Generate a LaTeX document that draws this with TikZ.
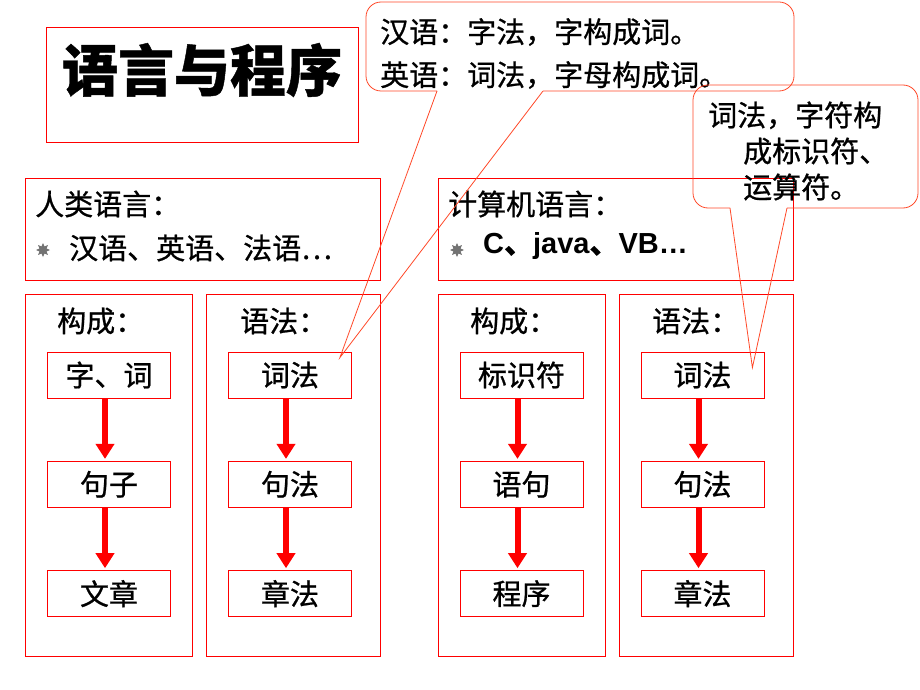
\documentclass[tikz,border=0pt]{standalone}
\usepackage{fontspec}
\setmainfont{Liberation Sans}
\newfontfamily\cjk[FakeBold=0.8]{Noto Sans CJK SC}
\usepackage{xcolor}
\usepackage{tikz}
\usetikzlibrary{positioning, arrows.meta, calc, shapes.geometric}
\definecolor{boxred}{RGB}{255,0,0}
\definecolor{calloutred}{RGB}{255,72,40}

\begin{document}
\begin{tikzpicture}[x=1pt, y=-1pt,
    framenode/.style={rectangle, draw=boxred, line width=0.8pt, inner sep=0pt},
    wordnode/.style={framenode, minimum width=123pt, minimum height=46pt, font=\cjk\fontsize{29}{34}\selectfont},
    textnode/.style={anchor=west, inner sep=0pt, font=\cjk\fontsize{29}{34}\selectfont},
    bulletnode/.style={star, star points=8, star point ratio=1.8, fill=black!55, inner sep=0pt, minimum size=14pt},
    callout/.style={draw=calloutred, line width=0.8pt},
    flow/.style={draw=red, line width=6pt, -{Triangle[width=18pt,length=15pt]}, shorten >=2pt},
]
\useasboundingbox (0,0) rectangle (920,690);

\node[framenode, minimum width=312pt, minimum height=115pt](titlebox) at (202,84.5){};
\node[inner sep=0pt, font=\cjk\bfseries\fontsize{56}{60}\selectfont](title) at (202,70){语言与程序};

\node[framenode, minimum width=355pt, minimum height=102pt](human) at (202.5,229){};
\node[textnode](humanhead) at (35,204){人类语言：};
\node[bulletnode](humandot) at (43,250){};
\node[textnode](humanlist) at (69,248){汉语、英语、法语…};

\node[framenode, minimum width=355pt, minimum height=102pt](machine) at (615.5,229){};
\node[textnode](machinehead) at (448,204){计算机语言：};
\node[bulletnode](machinedot) at (457,250){};
\node[textnode, font=\bfseries\fontsize{29}{34}\selectfont](machinelist) at (483,246){C{\cjk 、}java{\cjk 、}VB…};

\node[framenode, minimum width=167pt, minimum height=362pt](col1) at (108.5,475){};
\node[framenode, minimum width=174pt, minimum height=362pt](col2) at (293,475){};
\node[framenode, minimum width=167pt, minimum height=362pt](col3) at (521.5,475){};
\node[framenode, minimum width=174pt, minimum height=362pt](col4) at (706,475){};

\node[textnode](col1head) at (57,321){构成：};
\node[textnode](col2head) at (240,321){语法：};
\node[textnode](col3head) at (470,321){构成：};
\node[textnode](col4head) at (652,321){语法：};

\node[wordnode](c1a) at (109,375){字、词};
\node[wordnode](c1b)[below=62.5pt of c1a]{句子};
\node[wordnode](c1c)[below=62.5pt of c1b]{文章};
\node[wordnode](c2a) at (290,375){词法};
\node[wordnode](c2b)[below=62.5pt of c2a]{句法};
\node[wordnode](c2c)[below=62.5pt of c2b]{章法};
\node[wordnode](c3a) at (521.5,375){标识符};
\node[wordnode](c3b)[below=62.5pt of c3a]{语句};
\node[wordnode](c3c)[below=62.5pt of c3b]{程序};
\node[wordnode](c4a) at (702.5,375){词法};
\node[wordnode](c4b)[below=62.5pt of c4a]{句法};
\node[wordnode](c4c)[below=62.5pt of c4b]{章法};

\foreach \from/\to in {c1a/c1b, c1b/c1c, c2a/c2b, c2b/c2c, c3a/c3b, c3b/c3c, c4a/c4b, c4b/c4c}
    \draw[flow] ([xshift=-4pt]\from.south) -- ([xshift=-4pt]\to.north);

\node[textnode, align=left, font=\cjk\fontsize{29}{43}\selectfont](note1) at (380,53.5){汉语：字法，字构成词。\\英语：词法，字母构成词。};
\coordinate(tip1) at ($(c2a.north east)+(-12,6)$);
\draw[callout, rounded corners=15pt] (543,91) -- (794,91) -- (794,2) -- (366,2) -- (366,91) -- (437,91);
\draw[callout] (437,91) -- (tip1) -- (543,91);

\node[textnode, align=left, font=\cjk\fontsize{29}{36}\selectfont](note2) at (708,151){词法，字符构\\\hspace*{35pt}成标识符、\\\hspace*{35pt}运算符。};
\coordinate(tip2) at ($(c4a.north east)+(-12,16)$);
\draw[callout, rounded corners=15pt] (787,208) -- (918,208) -- (918,85) -- (693,85) -- (693,208) -- (730,208);
\draw[callout] (730,208) -- (tip2) -- (787,208);
\end{tikzpicture}
\end{document}
